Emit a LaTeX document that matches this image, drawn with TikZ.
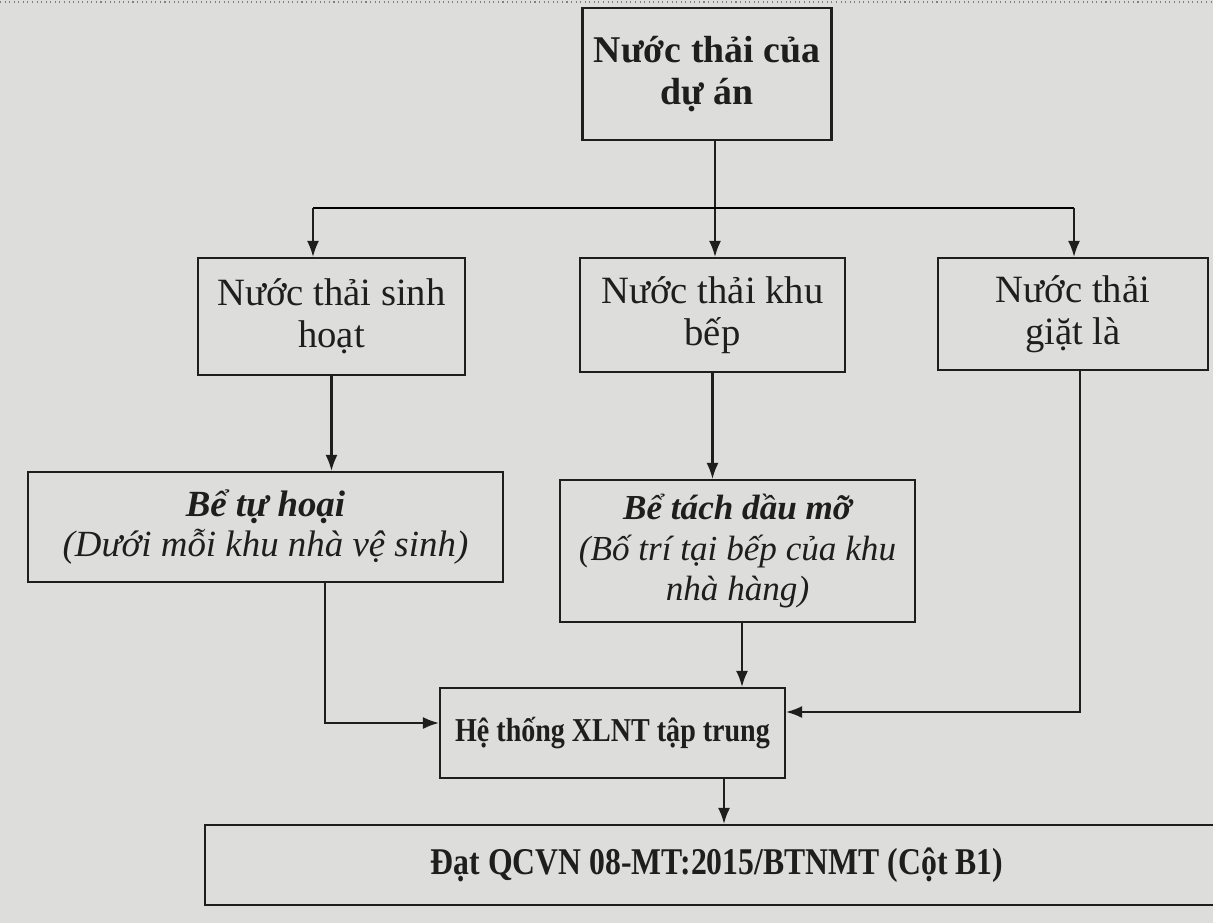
\documentclass[tikz,border=0pt]{standalone}
\usepackage{fontspec}
\setmainfont{Liberation Serif}
\newfontfamily\narrowbf[FakeStretch=0.84]{Liberation Serif Bold}
\usetikzlibrary{arrows.meta}
\definecolor{paper}{RGB}{221,221,219}
\definecolor{ink}{RGB}{30,30,30}
\begin{document}
\begin{tikzpicture}[x=0.02cm,y=-0.02cm,line width=1.2pt,
	every node/.style={draw=ink,text=ink,inner sep=0pt,align=center},
	->/.style={draw=ink,-{Latex[length=3.2mm,width=2.4mm]}}]
	\useasboundingbox (0,0) rectangle (1213,923);
	\clip (0,0) rectangle (1213,923);
	\fill[paper] (0,0) rectangle (1213,923);
	\draw[gray,line width=0.6pt,dotted] (0,2) -- (1213,2);

	\node (n1) at (707,74) [minimum width=4.98cm,minimum height=2.64cm,font=\fontsize{21.5}{24}\selectfont\bfseries] {Nước thải của\\dự án};
	\node (n2) at (331.5,316.5) [minimum width=5.34cm,minimum height=2.34cm,font=\fontsize{22}{24}\selectfont] {Nước thải sinh\\hoạt};
	\node (n3) at (712.5,315) [minimum width=5.3cm,minimum height=2.28cm,font=\fontsize{22}{24}\selectfont] {Nước thải khu\\bếp};
	\node (n4) at (1073,314) [minimum width=5.4cm,minimum height=2.24cm,font=\fontsize{22}{24}\selectfont] {Nước thải\\giặt là};
	\node (n5) at (265.5,527) [minimum width=9.5cm,minimum height=2.2cm,font=\fontsize{21}{23}\selectfont\itshape] {\textbf{Bể tự hoại}\\(Dưới mỗi khu nhà vệ sinh)};
	\node (n6) at (737.5,551) [minimum width=7.1cm,minimum height=2.84cm,font=\fontsize{20}{23}\selectfont\itshape] {\textbf{Bể tách dầu mỡ}\\(Bố trí tại bếp của khu\\nhà hàng)};
	\node (n7) at (612.5,733) [minimum width=6.9cm,minimum height=1.8cm,font=\fontsize{19}{22}\narrowbf] {Hệ thống XLNT tập trung};
	\node (n8) at (717,865) [minimum width=20.5cm,minimum height=1.6cm,font=\fontsize{21.5}{24}\narrowbf] {Đạt QCVN 08-MT:2015/BTNMT (Cột B1)};

	\coordinate (c0) at (715,208);
	\coordinate (c1) at (313,208);
	\coordinate (c2) at (1074,208);
	\coordinate (c3) at (325,723);
	\coordinate (c4) at (742,650);
	\coordinate (c5) at (1080,712);
	\coordinate (c6) at (724,800);

	\draw[->] (n1.south -| c0) -- (n3.north -| c0);
	\draw (c1) -- (c2);
	\draw[->] (c1) -- (n2.north -| c1);
	\draw[->] (c2) -- (n4.north -| c2);
	\draw[->] (n2.south) -- (n2.south |- n5.north);
	\draw[->] (n3.south) -- (n3.south |- n6.north);
	\draw[->] (n5.south -| c3) -- (c3) -- (n7.west |- c3);
	\draw[->] (n6.south -| c4) -- (n7.north -| c4);
	\draw[->] (n4.south -| c5) -- (c5) -- (n7.east |- c5);
	\draw[->] (n7.south -| c6) -- (n8.north -| c6);
\end{tikzpicture}
\end{document}
